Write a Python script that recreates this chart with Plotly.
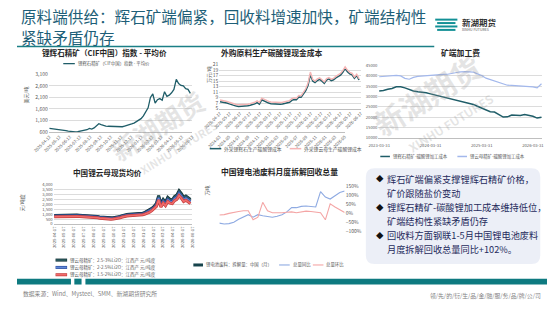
import plotly.graph_objects as go
import pandas as pd

W, H = 550, 310
FONT = "Noto Sans CJK SC"


def fx(x):
    return x / W


def fy(y):
    return 1 - y / H


# ---------------- data ----------------
# Chart 1: 锂辉石精矿（CIF中国）指数 - 平均价 (美元/吨), weekly
c1_dates = pd.date_range("2025-04-12", periods=61, freq="7D")
c1_price = [760, 750, 735, 720, 705, 690, 675, 660, 640, 625,
            615, 610, 615, 630, 650, 680, 700, 760, 730, 780,
            880, 960, 920, 880, 860, 850, 845, 840, 835, 830,
            825, 830, 860, 880, 920, 950, 990, 1060, 1120, 1180,
            1300, 1480, 1650, 2100, 2250, 1850, 2000, 2050, 1980, 2350,
            2150, 2200, 2300, 2450, 2880, 2700, 2620, 2600, 2480, 2450,
            2280]
c1_ticks = ["2025-04-12", "2025-05-12", "2025-06-12", "2025-07-12", "2025-08-12",
            "2025-09-12", "2025-10-12", "2025-11-12", "2025-12-12", "2026-01-12",
            "2026-02-12", "2026-03-12", "2026-04-12", "2026-05-12", "2026-06-12"]

# Chart 2: 外购原料生产碳酸锂现金成本 (万元/吨), weekly
c2_dates = pd.date_range("2025-04-17", periods=61, freq="7D")
c2_spod = [7.5, 7.4, 7.3, 7.0, 6.7, 6.4, 6.1, 5.9, 5.8, 5.8,
           5.8, 5.9, 6.0, 6.2, 6.4, 6.7, 7.2, 6.6, 8.2, 7.7,
           7.3, 7.0, 6.8, 6.7, 6.6, 6.6, 6.6, 6.7, 6.9, 7.2,
           7.3, 8.0, 8.3, 8.2, 9.2, 9.1, 10.5, 11.5, 13.5, 17.4,
           15.0, 14.5, 15.2, 15.6, 15.0, 14.2, 15.4, 15.8, 15.2, 15.5,
           16.2, 16.6, 17.2, 18.2, 19.6, 18.4, 17.6, 17.3, 16.0, 17.0,
           15.4]
c2_lepi = [8.1, 8.0, 7.9, 7.6, 7.3, 7.0, 6.7, 6.5, 6.4, 6.4,
           6.4, 6.5, 6.6, 6.8, 7.0, 7.3, 7.8, 7.2, 8.8, 8.3,
           7.9, 7.6, 7.4, 7.3, 7.2, 7.2, 7.2, 7.3, 7.5, 7.8,
           7.9, 8.6, 8.9, 8.8, 9.8, 9.7, 11.1, 12.2, 14.3, 18.3,
           15.6, 15.0, 15.8, 16.2, 15.5, 14.7, 15.9, 16.3, 15.7, 16.0,
           16.7, 17.1, 17.8, 18.8, 20.2, 19.0, 18.2, 17.8, 16.5, 17.5,
           15.9]
c2_ticks = ["2025-04-17", "2025-05-17", "2025-06-17", "2025-07-17", "2025-08-17",
            "2025-09-17", "2025-10-17", "2025-11-17", "2025-12-17", "2026-01-17",
            "2026-02-17", "2026-03-17", "2026-04-17", "2026-05-17", "2026-06-17"]

# Chart 3: 中国锂云母现货均价, weekly
c3_dates = pd.date_range("2025-04-17", periods=61, freq="7D")
c3_high = [860, 870, 880, 880, 890, 900, 900, 900, 900, 900,
           900, 890, 880, 880, 870, 860, 850, 820, 790, 760,
           720, 690, 660, 640, 630, 620, 630, 650, 700, 760,
           850, 930, 960, 980, 1000, 1000, 1010, 1020, 1050, 1100,
           1180, 1300, 1420, 1600, 1800, 2100, 2900, 2050, 2500, 2200,
           2700, 2500, 2450, 2800, 2950, 3400, 3100, 2700, 2850, 2650,
           2500]
c3_mid = [800, 810, 820, 820, 830, 840, 840, 840, 840, 840,
          840, 830, 820, 820, 810, 800, 790, 760, 730, 700,
          660, 630, 600, 580, 570, 560, 570, 590, 640, 700,
          790, 860, 890, 910, 930, 930, 940, 950, 980, 1020,
          1100, 1200, 1310, 1480, 1660, 1940, 2650, 1880, 2300, 2020,
          2480, 2300, 2250, 2580, 2720, 3130, 2850, 2480, 2620, 2440,
          2300]
c3_low = [730, 740, 750, 750, 760, 770, 770, 770, 770, 770,
          770, 760, 750, 750, 740, 730, 720, 690, 660, 630,
          590, 560, 530, 510, 500, 490, 500, 520, 570, 630,
          710, 780, 810, 830, 850, 850, 860, 870, 900, 940,
          1010, 1100, 1200, 1360, 1530, 1790, 2450, 1730, 2130, 1860,
          2290, 2120, 2070, 2380, 2510, 2900, 2630, 2290, 2420, 2250,
          2100]
c3_ticks = c2_ticks
c3_names = ["锂云母精矿：2.5-3%Li2O：江西产 元/吨度",
            "锂云母精矿：2-2.5%Li2O：江西产 元/吨度",
            "锂云母精矿：1.5-2%Li2O：江西产 元/吨度"]

# Chart 4: 矿端加工费 (元/吨), monthly
c4_dates = pd.date_range("2023-03-01", periods=39, freq="MS") + pd.offsets.MonthEnd(0)
c4_spod = [32700, 32900, 33500, 33900, 34700, 34800, 34200, 33400, 32700, 32300,
           32100, 31800, 31300, 30800, 30200, 29800, 29500, 29000, 28500, 27900,
           27300, 26900, 26200, 25300, 24400, 23500, 22700, 22500, 21400, 20100,
           20200, 21100, 21000, 20900, 21300, 21000, 20500, 19600, 20000]
c4_lepi = [39600, 39800, 40100, 40400, 40300, 40000, 38800, 38400, 39300, 39800,
           40000, 40100, 40300, 40400, 40600, 40700, 40800, 41300, 41700, 42000,
           42100, 42100, 41800, 41000, 40200, 38900, 38200, 37700, 37000, 36000,
           35500, 35400, 35300, 35100, 35200, 35000, 34700, 34200, 36200]
c4_ticks = ["2023-03-31", "2024-03-31", "2025-03-31", "2026-03-31"]

# Chart 5: 中国锂电池废料月度拆解回收总量, monthly (%)
c5_months = ["2024-03", "2024-04", "2024-05", "2024-06", "2024-07", "2024-08", "2024-09",
             "2024-10", "2024-11", "2024-12", "2025-01", "2025-02", "2025-03", "2025-04",
             "2025-05", "2025-06", "2025-07", "2025-08", "2025-09", "2025-10", "2025-11",
             "2025-12", "2026-01", "2026-02", "2026-03", "2026-04", "2026-05"]
c5_yoy = [-53, -58, -56, -48, -32, -18, -7, -21, -7, -13, -18, -21, -16, -7,
          8, 31, 31, 38, 40, 38, 35, 118, 89, 78, 98, 113, 122]
c5_mom = [-9, -7, 0, 3, 10, 14, 14, -35, -21, 60, 14, 3, 1, 3,
          6, 8, 3, 6, 12, 10, 6, 3, -35, 52, 35, 22, 5]
c5_ticks = c5_months[::2]

# ---------------- colours ----------------
TEAL = "#1f5d68"
PINK = "#f5b5b5"
LBLUE = "#a3b8ec"
BLUE5 = "#8eaae2"
PINK5 = "#f4a5a5"
GRID = "#dcdcdc"
TICK = dict(family=FONT, size=5, color="#595959")
TICK_S = dict(family=FONT, size=4.2, color="#595959")

fig = go.Figure()

# chart 1
fig.add_trace(go.Scatter(x=c1_dates, y=c1_price, mode="lines",
                         line=dict(color=TEAL, width=1.3), xaxis="x", yaxis="y"))
# chart 2
fig.add_trace(go.Scatter(x=c2_dates, y=c2_spod, mode="lines",
                         line=dict(color=TEAL, width=1.5), xaxis="x2", yaxis="y2"))
fig.add_trace(go.Scatter(x=c2_dates, y=c2_lepi, mode="lines",
                         line=dict(color=PINK, width=1.4), xaxis="x2", yaxis="y2"))
# chart 3 (outlined thick lines)
c3_styles = [("#0f2f33", "#2e5e63"), ("#2b4c9e", "#5f88d8"), ("#c43c3c", "#f06b6b")]
for vals, (edge, fill) in zip([c3_high, c3_mid, c3_low], c3_styles):
    fig.add_trace(go.Scatter(x=c3_dates, y=vals, mode="lines",
                             line=dict(color=edge, width=3), xaxis="x3", yaxis="y3"))
    fig.add_trace(go.Scatter(x=c3_dates, y=vals, mode="lines",
                             line=dict(color=fill, width=1.6), xaxis="x3", yaxis="y3"))
# chart 4
fig.add_trace(go.Scatter(x=c4_dates, y=c4_spod, mode="lines",
                         line=dict(color=TEAL, width=1.5), xaxis="x4", yaxis="y4"))
fig.add_trace(go.Scatter(x=c4_dates, y=c4_lepi, mode="lines",
                         line=dict(color=LBLUE, width=1.2), xaxis="x4", yaxis="y4"))
# chart 5
fig.add_trace(go.Scatter(x=c5_months, y=c5_yoy, mode="lines",
                         line=dict(color=BLUE5, width=1.1), xaxis="x5", yaxis="y6"))
fig.add_trace(go.Scatter(x=c5_months, y=c5_mom, mode="lines",
                         line=dict(color=PINK5, width=1.1), xaxis="x5", yaxis="y6"))


def xax(x0, x1, anchor, **kw):
    d = dict(domain=[fx(x0), fx(x1)], anchor=anchor, tickfont=TICK, showgrid=False,
             showline=True, linecolor="#bfbfbf", linewidth=0.8, ticks="", zeroline=False,
             fixedrange=True)
    d.update(kw)
    return d


def yax(y0, y1, anchor, rng, dtick, **kw):
    d = dict(domain=[fy(y1), fy(y0)], anchor=anchor, range=rng, dtick=dtick, tick0=rng[0],
             tickfont=TICK, showgrid=True, gridcolor=GRID, gridwidth=0.6,
             zeroline=False, showline=False, ticks="", fixedrange=True)
    d.update(kw)
    return d


layout = dict(
    width=W, height=H, margin=dict(l=0, r=0, t=0, b=0),
    paper_bgcolor="white", plot_bgcolor="rgba(0,0,0,0)",
    showlegend=False, font=dict(family=FONT),
    xaxis=xax(33, 182, "y", type="date", range=["2025-04-10", "2026-06-12"],
              tickvals=c1_ticks, tickformat="%Y-%m-%d", tickangle=-45, tickfont=TICK_S),
    yaxis=yax(72, 131, "x", [600, 3100], 500, tickformat=","),
    xaxis2=xax(210, 357, "y2", type="date", range=["2025-04-15", "2026-06-17"],
               tickvals=c2_ticks, tickformat="%Y-%m-%d", tickangle=-45, tickfont=TICK_S),
    yaxis2=yax(62, 107, "x2", [5, 21], 2),
    xaxis3=xax(38, 182, "y3", type="date", range=["2025-04-15", "2026-06-17"],
               tickvals=c3_ticks, tickformat="%Y-%m-%d", tickangle=-90, tickfont=TICK_S),
    yaxis3=yax(185, 225, "x3", [0, 4000], 500, tickformat=",", tickfont=TICK_S),
    xaxis4=xax(375, 545, "y4", type="date", range=["2023-03-25", "2026-06-05"],
               tickvals=c4_ticks, tickformat="%Y-%m-%d", tickangle=0, tickfont=TICK_S,
               ticklabelstandoff=3),
    yaxis4=yax(63, 137, "x4", [10000, 45000], 5000, tickformat="d", tickfont=TICK_S),
    xaxis5=xax(210, 340, "y5", type="category", range=[0, 26],
               tickvals=c5_ticks, tickangle=-45, tickfont=TICK_S),
    yaxis5=yax(186, 233, "x5", [0, 6], 1),
    yaxis6=dict(domain=[fy(233), fy(186)], anchor="x5", overlaying="y5", side="right",
                range=[-100, 150], dtick=50, tick0=-100, ticksuffix="%", tickfont=TICK,
                showgrid=False, zeroline=False, showline=False, fixedrange=True),
)
fig.update_layout(**layout)

shapes = []
annos = []


def hline(x0, x1, y, color, width):
    shapes.append(dict(type="line", xref="paper", yref="paper", x0=fx(x0), x1=fx(x1),
                       y0=fy(y), y1=fy(y), line=dict(color=color, width=width)))


def rect(x0, y0, x1, y1, color):
    shapes.append(dict(type="rect", xref="paper", yref="paper", x0=fx(x0), x1=fx(x1),
                       y0=fy(y1), y1=fy(y0), fillcolor=color, line=dict(width=0)))


def text(x, y, s, size, color="#333333", anchor="left", angle=0, bold=False, family=FONT):
    annos.append(dict(x=fx(x), y=fy(y), xref="paper", yref="paper", text=(f"<b>{s}</b>" if bold else s),
                      showarrow=False, xanchor=anchor, yanchor="middle", textangle=angle,
                      font=dict(family=family, size=size, color=color), borderpad=0))


# watermark
WM = "rgba(150,150,150,0.25)"
text(145, 124, "新湖期货", 26, WM, "center", -32, True)
text(168, 146, "XINHU FUTURES", 11, WM, "center", -32, True)
text(425, 93, "新湖期货", 30, WM, "center", -32, True)
text(450, 121, "XINHU FUTURES", 12, WM, "center", -32, True)

# header
text(3, 12.6, "原料端供给：辉石矿端偏紧，回收料增速加快，矿端结构性", 15.6, "#1e5f78")
text(3, 33.4, "紧缺矛盾仍存", 15.6, "#1e5f78")
hline(0, 433, 43.5, "#1b7f86", 1.6)
for i, yy in enumerate([16, 19.5, 23, 26.5]):
    hline(434 + (i % 2) * 2, 457 - (i % 2) * 2, yy, "#139096", 2)
text(461, 18, "新湖期货", 8.5, "#333333", bold=True)
text(461, 26.5, "XINHU FUTURES", 3.5, "#555555")

# chart titles
text(91, 50, "锂辉石精矿（CIF中国）指数 - 平均价", 7.6, "#262626", "center", bold=True)
text(265, 50, "外购原料生产碳酸锂现金成本", 7.8, "#262626", "center", bold=True)
text(460, 50, "矿端加工费", 7.8, "#262626", "center", bold=True)
text(94, 172, "中国锂云母现货均价", 7.6, "#262626", "center", bold=True)
text(272, 171, "中国锂电池废料月度拆解回收总量", 7.8, "#262626", "center", bold=True)

# axis titles
text(9, 93, "美元/吨", 5, "#595959", "center", -90)
text(200, 72, "万元/吨", 5, "#595959", "center", -90)
text(6, 203, "元/吨度", 5, "#595959", "center", -90)
text(197, 191, "万吨", 5, "#595959", "center", -90)

# legends
LG = "#595959"
hline(48, 60, 61, TEAL, 1.3)
text(62, 61, "锂辉石精矿（CIF中国）指数 - 平均价", 4.4, LG)

hline(200, 212, 148, TEAL, 1.5)
text(214, 148, "外采锂辉石生产碳酸锂成本", 4.8, LG)
hline(283, 295, 148, PINK, 1.5)
text(297, 148, "外采锂云母生产碳酸锂成本", 4.8, LG)

hline(377, 387, 156, TEAL, 1.5)
text(389, 156, "锂辉石精矿-碳酸锂加工成本", 4.4, LG)
hline(457, 467, 156, LBLUE, 1.5)
text(469, 156, "锂云母精矿-碳酸锂加工成本", 4.4, LG)

for k, (name, (edge, fill)) in enumerate(zip(c3_names, c3_styles)):
    yy = 262 + 7.5 * k
    hline(40, 52, yy, edge, 3)
    hline(40.5, 51.5, yy, fill, 1.6)
    text(54, yy, name, 4.5, LG)

hline(183, 193, 267, "#17444c", 3)
text(195, 267, "锂电池废料：拆解量：中国（月）", 4.4, LG)
hline(272, 283, 267, BLUE5, 1.1)
text(285, 267, "总量同比", 4.4, LG)
hline(307, 318, 267, PINK5, 1.1)
text(320, 267, "总量环比", 4.4, LG)

# text box (rounded)
bx0, by0, bx1, by1, r = 362, 168, 543, 266, 9


def P(x, y):
    return f"{fx(x):.5f},{fy(y):.5f}"


path = (f"M {P(bx0 + r, by0)} L {P(bx1 - r, by0)} Q {P(bx1, by0)} {P(bx1, by0 + r)} "
        f"L {P(bx1, by1 - r)} Q {P(bx1, by1)} {P(bx1 - r, by1)} L {P(bx0 + r, by1)} "
        f"Q {P(bx0, by1)} {P(bx0, by1 - r)} L {P(bx0, by0 + r)} Q {P(bx0, by0)} {P(bx0 + r, by0)} Z")
shapes.append(dict(type="path", xref="paper", yref="paper", path=path,
                   fillcolor="#eceff7", line=dict(width=0), layer="below"))
NAVY = "#1f2b5c"
lines = [("◆", "辉石矿端偏紧支撑锂辉石精矿价格，"), ("", "矿价跟随盐价变动"),
         ("◆", "锂辉石精矿-碳酸锂加工成本维持低位，"), ("", "矿端结构性紧缺矛盾仍存"),
         ("◆", "回收料方面钢联1-5月中国锂电池废料"), ("", "月度拆解回收总量同比+102%。")]
for k, (b, s) in enumerate(lines):
    yy = 179 + 14.4 * k
    if b:
        text(371, yy, b, 7.5, "#111111")
    text(383, yy, s, 9.2, NAVY)

# bottom bar + footer
rect(0, 281, 56, 287, "#0e7a80")
rect(59.5, 281, 67, 287, "#0e7a80")
rect(71, 281, 550, 287, "#0e7a80")
text(5, 296, "数据来源：Wind、Mysteel、SMM、新湖期货研究所", 5.8, "#7f7f7f")
text(545, 298, "领/先/的/衍/生/品/金/融/服/务/品/牌/公/司", 5.8, "#7f7f7f", "right")

fig.update_layout(shapes=shapes, annotations=annos)
fig.write_html("out.html")
